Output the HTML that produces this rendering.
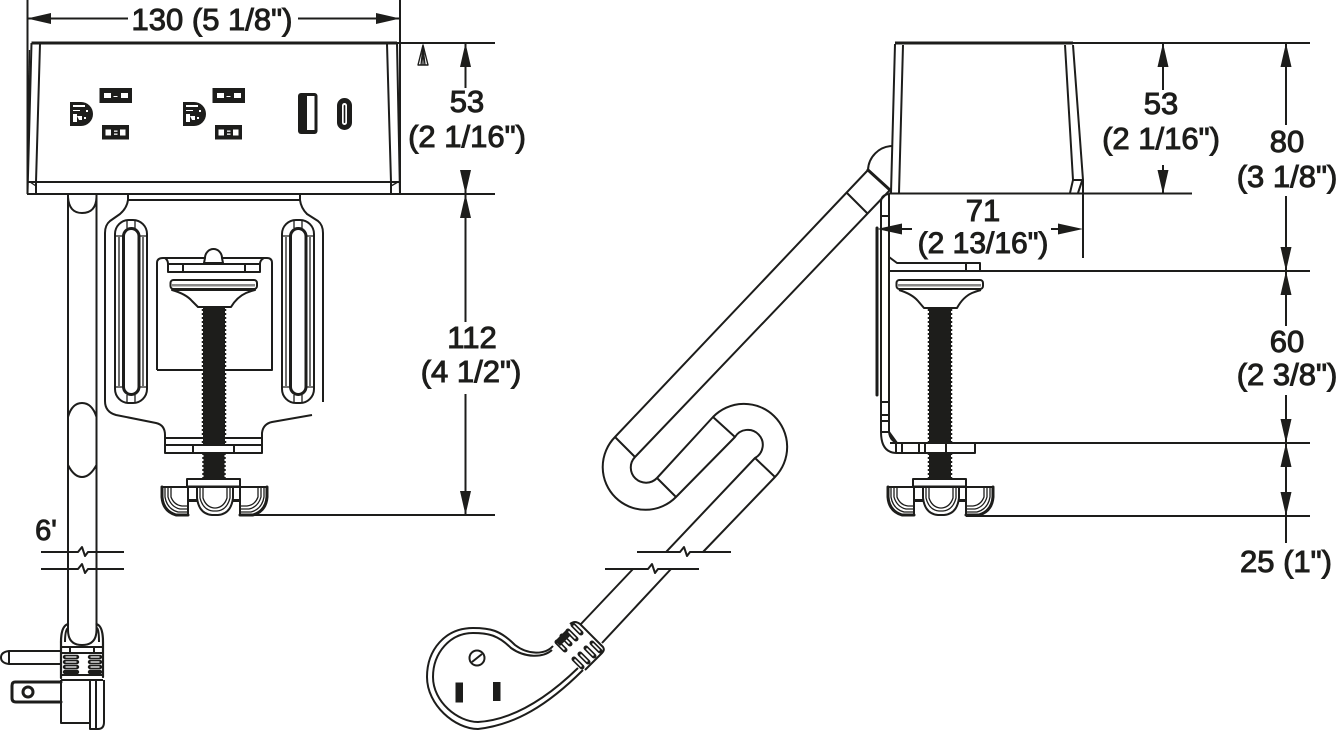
<!DOCTYPE html>
<html>
<head>
<meta charset="utf-8">
<style>
html,body{margin:0;padding:0;background:#fff;width:1339px;height:730px;overflow:hidden}
svg{display:block}
text{font-family:"Liberation Sans",sans-serif;font-size:31px;fill:#1d1d1b;stroke:#1d1d1b;stroke-width:1;text-anchor:middle}
.l{fill:none;stroke:#1d1d1b;stroke-width:2;stroke-linejoin:round}
.t{fill:none;stroke:#1d1d1b;stroke-width:3;stroke-linejoin:round;stroke-linecap:round}
.n{fill:none;stroke:#1d1d1b;stroke-width:1.3}
.k{fill:#1d1d1b}
.w{fill:#fff}
.d{fill:none;stroke:#1d1d1b;stroke-width:5.6;stroke-linecap:round}
.e{fill:none;stroke:#fff;stroke-width:2;stroke-linecap:round}
.th{fill:none;stroke:#1d1d1b;stroke-width:1.5;stroke-dasharray:2 2}
</style>
</head>
<body>
<svg width="1339" height="730" viewBox="0 0 1339 730" xmlns="http://www.w3.org/2000/svg">
<defs>
<g id="knob">
  <path class="t" d="M162,487 V497 Q163,511 176,515 H188"/>
  <path class="n" d="M165,487 V497 Q167,509 178,512 H187 M168,487 V497 Q171,507 180,509 H187 M171,487 V497 Q174,505 182,506 H187"/>
  <path class="t" d="M267,487 V497 Q266,511 253,515 H240"/>
  <path class="n" d="M264,487 V497 Q262,509 251,512 H241 M261,487 V497 Q258,507 249,509 H241 M258,487 V497 Q255,505 247,506 H241"/>
  <path class="l" d="M188,486 V516 M240,486 V516"/>
  <path class="l" d="M197,487 V498 Q199,514 212,515 H218 Q231,514 233,498 V487"/>
  <path class="n" d="M200,487 V498 Q203,510 213,511 H217 Q227,510 230,498 V487 M203,487 V498 Q206,507 214,508 H216 Q224,507 227,498 V487"/>
  <path class="l" d="M188,501 H197 M233,501 H240 M161,487 H267"/>
  <rect class="l w" x="187" y="479" width="53" height="7.5"/>
  <path class="l" d="M188,486 V500 H197 M240,486 V500 H233"/>
</g>
<g id="outlet">
  <path class="k" d="M70,102 H81 A12,12 0 0 1 81,126 H70 Z"/>
  <path class="w" d="M73,105 H85 V107 H73 Z M73,110 H80 V111 H73 Z M73,114 H77 V122 H73 Z M77,116 H82 V120 H79 Z M86,110 H88 V112 H86 Z M84,117 H86 V119 H84 Z"/>
  <rect class="k" x="99.5" y="88" width="32.5" height="15"/>
  <rect class="w" x="104" y="93" width="7" height="5"/>
  <rect class="w" x="121" y="93" width="7" height="5"/>
  <rect class="w" x="113.5" y="96" width="4" height="1"/>
  <rect class="k" x="102" y="125" width="27" height="14.5"/>
  <rect class="w" x="105.5" y="129.5" width="5.5" height="6"/>
  <rect class="w" x="120" y="129.5" width="5.5" height="6"/>
  <rect class="w" x="114" y="130.5" width="3.5" height="1.3"/>
  <rect class="w" x="114" y="133.5" width="3.5" height="1.3"/>
</g>
<g id="slot">
  <rect class="l" x="115" y="220" width="32" height="183" rx="14"/>
  <rect class="t" x="123.5" y="228.5" width="15.5" height="166" rx="7.7"/>
  <path class="n" d="M119,237 V386 M143,237 V386 M115,236 H123 M139,236 H147 M115,387 H123 M139,387 H147 M127,220 V228 M135,220 V228 M127,395 V403 M135,395 V403"/>
</g>
</defs>

<!-- FRONT VIEW: top dimension -->
<path class="l" d="M27.5,0 V194 M400,0 V194 M27,18.5 H128 M298,18.5 H400"/>
<path class="k" d="M27,18.5 L51,13 V24 Z M400,18.5 L376,13 V24 Z"/>
<text x="212" y="30">130 (5 1/8")</text>

<!-- Housing -->
<path class="t" d="M31.5,43 H397" style="stroke-linecap:butt"/>
<path class="l" d="M397,43 H495"/>
<path class="l" d="M31.5,43 L27.5,194 M40,44 L36,182 V194 M387,44 L391,182 V194 M397,43 L400,194"/>
<path class="n" d="M29.5,50 L27.8,180"/>
<path class="l" d="M28,182 H399 M27,194 H495"/>
<path class="n" d="M30,182 L36,186 M398,182 L391,186"/>
<path class="l" d="M423,45 L418,65 H428 Z" style="stroke-width:1.4"/>
<path class="n" d="M423,46 V65 M421,65 L423,47 L425,65"/>

<use href="#outlet"/>
<use href="#outlet" x="113"/>
<!-- USB A -->
<rect class="k" x="298" y="93" width="19.5" height="41" rx="3"/>
<rect class="w" x="307" y="96" width="7.5" height="34"/>
<!-- USB C -->
<rect class="k" x="337" y="98" width="15" height="32" rx="7.5"/>
<rect class="w" x="342" y="103" width="5" height="22" rx="2.5"/>
<rect class="k" x="343.7" y="105" width="1.6" height="18" rx=".8"/>

<!-- Dimensions 53, 112 -->
<path class="l" d="M465.5,43 V88 M465.5,170 V194 M465.5,194 V322 M465.5,394 V515"/>
<path class="k" d="M465.5,43 L460,67 H471 Z M465.5,194 L460,170 H471 Z M465.5,194 L460,218 H471 Z M465.5,515 L460,491 H471 Z"/>
<text x="467" y="112">53</text>
<text x="467" y="147">(2 1/16")</text>
<text x="472" y="348">112</text>
<text x="471" y="382">(4 1/2")</text>
<path class="l" d="M240,515 H495"/>

<!-- Cord front -->
<path class="l" d="M68,194 V630 Q68,645 82,645 Q96.5,645 96.5,630 V194"/>
<path class="l" d="M68,197 Q69,213 82,213 Q96,213 96.5,197"/>
<path class="l" d="M68,417 Q72,403 82,403 Q92,403 96.5,417 M68,465 Q74,477 82,477 Q90,477 96.5,465"/>
<!-- Cord break -->
<path class="l" d="M41,552 H78 L82,547 L85,556 L88,552 H124 M41,569 H78 L82,564 L85,573 L88,569 H124"/>

<!-- Clamp front -->
<path class="l" d="M128,195 V200 Q127,208 120,214 L110,221 Q105,225 105,233 V401 Q105,412 116,415 L156,423 Q165,425 165,435 V438"/>
<path class="l" d="M300,195 V200 Q301,208 307,214 L318,221 Q323,225 323,233 V402"/>
<path class="l" d="M312,415 L272,422 Q263,424 262,433 V438"/>
<path class="l" d="M128,200 H300"/>
<use href="#slot"/>
<use href="#slot" x="167"/>
<path class="l" d="M157,370 V263 Q157,258 163,258 H267 Q272,258 272,263 V370 H157"/>
<path class="l" d="M165,258 Q168,260 168,264 V272 H260 V264 Q260,260 264,258 M168,264 H260 M183,264 V272 M245,264 V272"/>
<path class="l w" d="M205,258 A8.5,9 0 0 1 222,258 L223,263 H204 Z"/>
<rect class="l w" x="170.500" y="280" width="86.500" height="9" rx="3"/>
<rect x="172" y="284" width="83" height="2.500" fill="#8a8a8a"/>
<path class="l w" d="M172,290 Q186,294 192,301 L198,307 H231 Q237,297 246,293 Q251,291 255,290 Z" style="stroke-linejoin:round"/>
<path class="k" d="M203,308 H225 V444 H203 Z M203.500,453 H224.500 V479 H203.500 Z"/>
<path class="th" d="M202.500,309 V444 M225.500,309 V444 M203,453 V479 M225,453 V479"/>
<path class="l" d="M165,438 H262 V453 H165 Z M165,445 H262 M193,445 V453 M234,445 V453"/>
<rect class="w" x="194" y="446" width="39" height="6"/>
<use href="#knob"/>

<!-- 6' -->
<text x="46" y="540" style="font-size:29px">6'</text>

<!-- Plug front -->
<path class="t" d="M61,642 Q61,626 68,624 M96.500,624 Q103,626 103,642 V677" style="stroke-width:2.200"/>
<path class="l" d="M65,642 Q65,630 68,628 M97,628 Q99,630 99,642"/>
<path class="t" d="M61,642 V678" style="stroke-width:2.200"/>
<path class="l" d="M61,647 H103 M70,647 V653 M94,647 V653 M61,653 H103"/>
<path class="d" d="M65,657 H77 M65,662 H77 M65,667 H77 M65,672 H77 M90,657 H100 M90,662 H100 M90,667 H100 M90,672 H100" style="stroke-width:4.400"/>
<path class="e" d="M66,657 H76 M66,662 H76 M66,667 H76 M91,657 H99 M91,662 H99 M91,667 H99" style="stroke-width:1.300"/>
<path class="l" d="M61,675 H103 M61,680 H103"/>
<path class="l" d="M61,680 V723 H90 V729 H98 Q104,729 104,722 V680 M90,680 V723 M96,680 V729"/>
<path class="l" d="M61,651 H9 Q1,652 1,657.500 Q1,663 9,664 H61 M9,651 V664"/>
<path class="t" d="M61,682 H15 Q12,682 12,686 V698 Q12,702 16,702 H61"/>
<circle class="t" cx="28" cy="692" r="5"/>

<!-- Flexed cord -->
<path class="l" d="M868,170 L615,437 A42,42 0 1 0 676,497 L735,437 A15,15 0 1 1 755,458 L666,552"/>
<path class="l" d="M890,190 L635,457 A15,15 0 1 0 657,478 L713,417 A43,43 0 1 1 775,477 L703,552"/>
<path class="l" d="M615,437 L635,457 M657,478 L676,497 M713,417 L735,437 M755,458 L775,477 M847,193 L867,213"/>
<path class="t" d="M868,170 L890,190"/>
<path class="l" d="M868,170 A25,25 0 0 1 892,146"/>

<!-- Cord breaks -->
<path class="l" d="M637,552 H680 L684,547 L687,556 L690,552 H731 M605,569 H648 L652,564 L655,573 L658,569 H699"/>
<path class="l" d="M633,569 L580,625 M671,569 L602,643"/>

<!-- Socket -->
<path class="l" d="M553,646 C545,655 528,655 515,645 C500,630 490,628 473,628 C445,628 427,650 427,677 C427,705 455,729 478,729 C515,725 548,705 583,670"/>
<path class="l" d="M552,650 C543,658 525,658 511,648 C498,635 488,633 473,633 C450,633 433,653 433,677 C433,702 458,722 478,722 C512,720 545,700 578,668"/>
<circle class="l" cx="477" cy="658" r="7.500"/>
<path class="l" d="M472,662 L482,654"/>
<rect class="k" x="455.500" y="682.500" width="7.500" height="20"/>
<rect class="k" x="493" y="682" width="7.500" height="19"/>
<!-- Collar -->
<path class="l" d="M570,624 Q575,620 580,624 L603,647 Q605,650 602,653 L585,670"/>
<path class="d" d="M557,642 L565,650 M562,636 L570,644 M568,631 L576,639 M573,625 L581,633 M574,659 L582,667 M580,654 L588,662 M586,648 L594,656 M592,643 L600,651" style="stroke-width:5"/>
<path class="e" d="M558,643 L564,649 M563,637 L569,643 M569,632 L575,638 M574,626 L580,632 M575,660 L581,666 M581,655 L587,661 M587,649 L593,655 M593,644 L599,650" style="stroke-width:1.600"/>
<path class="k" d="M555,641 L566,630 L571,635 L560,646 Z"/>

<!-- SIDE VIEW housing -->
<path class="t" d="M895,43 H1073" style="stroke-linecap:butt"/>
<path class="l" d="M1073,43 H1310"/>
<path class="l" d="M895,44 L891,193 M903,45 L899,193 M1065,45 L1073,180 L1070,193 M1073,45 L1083,180 V193 M1073,180 H1083 M1082,181 L1078,193"/>
<path class="l" d="M889,193.500 H1192"/>
<path class="l" d="M1083,193 V258"/>
<!-- 71 dim -->
<path class="l" d="M902,229 H912 M1051,229 H1060"/>
<path class="k" d="M877,229 L902,223.500 V234.500 Z M1083,229 L1058,223.500 V234.500 Z"/>
<text x="983" y="221">71</text>
<text x="983" y="253" style="font-size:30px">(2 13/16")</text>

<!-- Side bracket -->
<path class="l" d="M889,194 Q881,195 881,202 V432 Q881,453 897,453 H975 V443"/>
<path class="l" d="M889,194 V430 Q889,440 897,443 M889,432 L897,443"/>
<path class="t" d="M877,228 V395"/>
<path class="l" d="M881,216 H889 M881,402 H889 M881,415 H889 M881,421 H889 M881,432 H889"/>
<path class="l" d="M896,443 V453 M902,443 V453 M919,443 V453 M925,443 V453 M946,443 V453 M890,443 H1310"/>
<path class="l" d="M889,257 L897,263 H980 V271 M966,263 V271 M889,271 H1310"/>
<rect class="l w" x="896.500" y="280" width="86.500" height="9" rx="3"/>
<rect x="898" y="284" width="83" height="2.500" fill="#8a8a8a"/>
<path class="l" d="M899,290 Q912,294 918,301 L924,308 H957 Q963,297 972,293 Q977,291 981,290"/>
<path class="k" d="M929,308 H951 V443 H929 Z M929,453 H951 V479 H929 Z"/>
<path class="th" d="M928.500,309 V443 M951.500,309 V443 M928.500,453 V479 M951.500,453 V479"/>
<use href="#knob" x="726"/>
<path class="l" d="M966,516 H1310"/>

<!-- Side dims -->
<path class="l" d="M1163,43 V90 M1163,165 V194"/>
<path class="k" d="M1163,43 L1157.500,67 H1168.500 Z M1163,194 L1157.500,170 H1168.500 Z"/>
<text x="1161" y="114">53</text>
<text x="1161" y="149">(2 1/16")</text>

<path class="l" d="M1286,43 V125 M1286,196 V271 M1286,271 V326 M1286,395 V443 M1286,443 V516 V543"/>
<path class="k" d="M1286,43 L1280.500,67 H1291.500 Z M1286,271 L1280.500,247 H1291.500 Z M1286,271 L1280.500,295 H1291.500 Z M1286,443 L1280.500,419 H1291.500 Z M1286,443 L1280.500,467 H1291.500 Z M1286,516 L1280.500,492 H1291.500 Z"/>
<text x="1287" y="152">80</text>
<text x="1287" y="187">(3 1/8")</text>
<text x="1287" y="352">60</text>
<text x="1287" y="385">(2 3/8")</text>
<text x="1286" y="572">25 (1")</text>
</svg>
</body>
</html>
